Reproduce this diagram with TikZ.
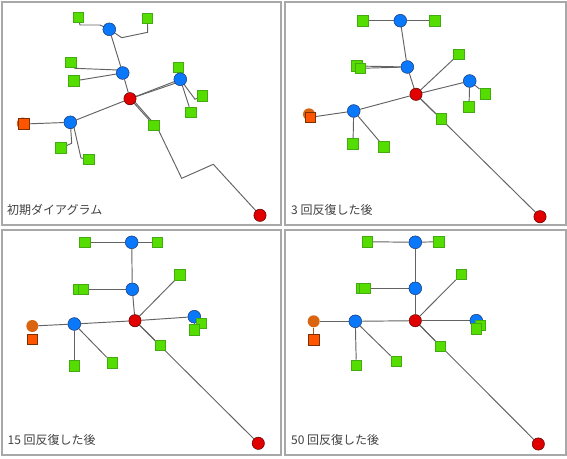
\documentclass[tikz,border=0pt]{standalone}
\usepackage{fontspec}
\newfontfamily\cjk{Noto Sans CJK JP}
\usetikzlibrary{backgrounds}
\definecolor{myblue}{HTML}{0A78FA}
\definecolor{myblueB}{HTML}{1A3570}
\definecolor{myred}{HTML}{E00000}
\definecolor{myredB}{HTML}{5A0000}
\definecolor{mygreen}{HTML}{55DD00}
\definecolor{mygreenB}{HTML}{44AA11}
\definecolor{myorange}{HTML}{FF5500}
\definecolor{myorangeB}{HTML}{7A3000}
\definecolor{myorangec}{HTML}{DA6410}
\definecolor{edgegray}{HTML}{636363}
\definecolor{framegray}{HTML}{A8A8A8}
\definecolor{textgray}{HTML}{404040}
\tikzset{
 bnode/.style={circle, draw=myblueB, fill=myblue, line width=0.5pt, minimum size=12.8pt, inner sep=0pt},
 rnode/.style={circle, draw=myredB, fill=myred, line width=0.5pt, minimum size=12.3pt, inner sep=0pt},
 gnode/.style={rectangle, draw=mygreenB, fill=mygreen, line width=0.5pt, minimum size=10.8pt, inner sep=0pt},
 onode/.style={rectangle, draw=myorangeB, fill=myorange, line width=0.5pt, minimum size=10.8pt, inner sep=0pt},
 ocnode/.style={circle, fill=myorangec, minimum size=12pt, inner sep=0pt},
 edge/.style={draw=edgegray, line width=0.95pt},
 oedge/.style={draw=myorangec!80!black, line width=1pt},
 panelframe/.style={draw=framegray, line width=2pt},
 lbl/.style={font=\cjk\fontsize{12}{14}\selectfont, text=textgray, anchor=west, inner sep=0pt}
}
\begin{document}
\begin{tikzpicture}[x=1pt,y=-1pt]
\useasboundingbox (0,0) rectangle (567,458);
% frames
\draw[panelframe] (1.5,1.5) rectangle (281,225);
\draw[panelframe] (285,1.5) rectangle (565.5,225);
\draw[panelframe] (1.5,230) rectangle (281,454.5);
\draw[panelframe] (285,230) rectangle (565.5,454.5);

% ---------------- Panel 1 ----------------
\node[ocnode] (p1oc) at (22.8,123.5) {};
\node[onode] (p1o) at (24,124) {};
\node[gnode] (p1gTL) at (78.3,17.3) {};
\node[gnode] (p1gTR) at (147.3,18.3) {};
\node[bnode] (p1bT) at (109.3,29.3) {};
\node[gnode] (p1g1) at (71,62.3) {};
\node[gnode] (p1g2) at (74,81) {};
\node[bnode] (p1bM) at (122.7,73) {};
\node[gnode] (p1g3) at (178.3,67.3) {};
\node[bnode] (p1bR) at (180.3,79.3) {};
\node[gnode] (p1g5) at (202.3,95.7) {};
\node[gnode] (p1g6) at (191,112.3) {};
\node[rnode] (p1r) at (130,98.7) {};
\node[gnode] (p1g4) at (154,125.3) {};
\node[bnode] (p1bL) at (70.3,122.3) {};
\node[gnode] (p1g7) at (61,148) {};
\node[gnode] (p1g8) at (89,159.3) {};
\node[rnode] (p1rB) at (260,215.3) {};
\node[lbl] (p1l) at (7,210) {初期ダイアグラム};
\begin{pgfonlayer}{background}
\draw[edge] (p1gTL.center) -- (80,25) -- (100,25) -- (p1bT.center);
\draw[edge] (p1bT.center) -- (121.7,37.7) -- (147.7,32.3) -- (p1gTR.center);
\draw[edge] (p1bT) -- (p1bM);
\draw[edge] (p1g1.center) -- (75,68.3) -- (118,70) -- (p1bM.center);
\draw[edge] (p1g2) -- (p1bM);
\draw[edge] (p1bM) -- (p1r);
\draw[edge] (p1r.center) -- (p1bR.center);
\draw[edge] (p1r.center) -- ([yshift=-2.2]p1bR.center) -- (p1g3.center);
\draw[edge] (p1bR.center) -- (195,99.3) -- (p1g5.center);
\draw[edge] (p1bR) -- (p1g6);
\draw[edge] (p1r.center) -- (p1g4.center);
\draw[edge] ([xshift=2]p1r.center) -- (157,127) -- (181.7,178.3) -- (213.3,164.3) -- (p1rB.center);
\draw[edge] (p1bL) -- (p1r);
\draw[edge] (p1o) -- (p1bL);
\draw[edge] (p1bL.center) -- (71.7,143.3) -- (p1g7.center);
\draw[edge] ([xshift=2.5]p1bL.center) -- (81,158) -- (p1g8.center);
\end{pgfonlayer}

% ---------------- Panel 2 ----------------
\node[ocnode] (p2oc) at (309,114.3) {};
\node[onode] (p2o) at (310.3,117.3) {};
\node[gnode] (p2gL) at (363,20.7) {};
\node[gnode] (p2gR) at (434.7,20.7) {};
\node[bnode] (p2bT) at (400.3,20.7) {};
\node[gnode] (p2g1) at (357,66) {};
\node[gnode] (p2g2) at (360.3,68.3) {};
\node[bnode] (p2bM) at (407.3,67) {};
\node[gnode] (p2g3) at (458.7,54.3) {};
\node[bnode] (p2bR) at (469.7,81) {};
\node[gnode] (p2g5) at (485.3,93.7) {};
\node[gnode] (p2g6) at (469,107) {};
\node[rnode] (p2r) at (416,94.3) {};
\node[gnode] (p2g4) at (441.3,119) {};
\node[bnode] (p2bL) at (353.7,111) {};
\node[gnode] (p2g7) at (353,144) {};
\node[gnode] (p2g8) at (384,146.7) {};
\node[rnode] (p2rB) at (540,216.7) {};
\node[lbl] (p2l) at (291,210) {3 回反復した後};
\begin{pgfonlayer}{background}
\draw[edge] (p2gL) -- (p2bT);
\draw[edge] (p2bT) -- (p2gR);
\draw[edge] (p2bT) -- (p2bM);
\draw[edge] (p2g1) -- (p2bM);
\draw[edge] (p2g2) -- (p2bM);
\draw[edge] (p2bM) -- (p2r);
\draw[edge] (p2r) -- (p2g3);
\draw[edge] (p2r) -- (p2bR);
\draw[edge] (p2bR) -- (p2g5);
\draw[edge] (p2bR) -- (p2g6);
\draw[edge] (p2r) -- (p2g4);
\draw[edge] (p2r) -- (p2rB);
\draw[edge] (p2r) -- (p2bL);
\draw[edge] (p2bL) -- (p2o);
\draw[edge] (p2bL) -- (p2g7);
\draw[edge] (p2bL) -- (p2g8);
\end{pgfonlayer}

% ---------------- Panel 3 ----------------
\node[ocnode] (p3oc) at (32.3,326) {};
\node[onode] (p3o) at (32.3,339.3) {};
\node[gnode] (p3gL) at (85,242.3) {};
\node[gnode] (p3gR) at (157.3,242.3) {};
\node[bnode] (p3bT) at (131.7,242.3) {};
\node[gnode] (p3g1) at (79,289.3) {};
\node[gnode] (p3g2) at (83.3,289.3) {};
\node[bnode] (p3bM) at (132.3,289.3) {};
\node[gnode] (p3g3) at (180,275) {};
\node[bnode] (p3bR) at (194.3,316.7) {};
\node[gnode] (p3g5) at (201.3,323.3) {};
\node[gnode] (p3g6) at (194.3,330) {};
\node[rnode] (p3r) at (135,320.7) {};
\node[gnode] (p3g4) at (160.3,345.3) {};
\node[bnode] (p3bL) at (74.3,324) {};
\node[gnode] (p3g7) at (74.3,366) {};
\node[gnode] (p3g8) at (112.3,363) {};
\node[rnode] (p3rB) at (258.3,443.3) {};
\node[lbl] (p3l) at (7.5,439.5) {15 回反復した後};
\begin{pgfonlayer}{background}
\draw[edge] (p3gL) -- (p3bT);
\draw[edge] (p3bT) -- (p3gR);
\draw[edge] (p3bT) -- (p3bM);
\draw[edge] (p3g1) -- (p3bM);
\draw[edge] (p3g2) -- (p3bM);
\draw[edge] (p3bM) -- (p3r);
\draw[edge] (p3r) -- (p3g3);
\draw[edge] (p3r) -- (p3bR);
\draw[edge] (p3bR) -- (p3g5);
\draw[edge] (p3bR) -- (p3g6);
\draw[edge] (p3r) -- (p3g4);
\draw[edge] (p3r) -- (p3rB);
\draw[edge] (p3r) -- (p3bL);
\draw[edge] (p3bL) -- (p3oc);
\draw[edge] (p3bL) -- (p3g7);
\draw[edge] (p3bL) -- (p3g8);
\end{pgfonlayer}

% ---------------- Panel 4 ----------------
\node[ocnode] (p4oc) at (313.7,321.3) {};
\node[onode] (p4o) at (313.7,339.7) {};
\node[gnode] (p4gL) at (367.3,241.7) {};
\node[gnode] (p4gR) at (439,241.7) {};
\node[bnode] (p4bT) at (415.3,242.3) {};
\node[gnode] (p4g1) at (362,288.3) {};
\node[gnode] (p4g2) at (364.7,288.3) {};
\node[bnode] (p4bM) at (415.3,288.3) {};
\node[gnode] (p4g3) at (461.3,274.3) {};
\node[bnode] (p4bR) at (476.3,320.7) {};
\node[gnode] (p4g5) at (480.3,325.3) {};
\node[gnode] (p4g6) at (476.3,329) {};
\node[rnode] (p4r) at (415.3,320.7) {};
\node[gnode] (p4g4) at (440.3,346.3) {};
\node[bnode] (p4bL) at (355.3,321.3) {};
\node[gnode] (p4g7) at (356.3,365.3) {};
\node[gnode] (p4g8) at (396.3,361.3) {};
\node[rnode] (p4rB) at (538.3,444) {};
\node[lbl] (p4l) at (291,439.5) {50 回反復した後};
\begin{pgfonlayer}{background}
\draw[edge] (p4gL) -- (p4bT);
\draw[edge] (p4bT) -- (p4gR);
\draw[edge] (p4bT) -- (p4bM);
\draw[edge] (p4g1) -- (p4bM);
\draw[edge] (p4g2) -- (p4bM);
\draw[edge] (p4bM) -- (p4r);
\draw[edge] (p4r) -- (p4g3);
\draw[edge] (p4r) -- (p4bR);
\draw[edge] (p4bR) -- (p4g5);
\draw[edge] (p4bR) -- (p4g6);
\draw[edge] (p4r) -- (p4g4);
\draw[edge] (p4r) -- (p4rB);
\draw[edge] (p4r) -- (p4bL);
\draw[edge] (p4bL) -- (p4oc);
\draw[oedge] (p4oc) -- (p4o);
\draw[edge] (p4bL) -- (p4g7);
\draw[edge] (p4bL) -- (p4g8);
\end{pgfonlayer}
\end{tikzpicture}
\end{document}
